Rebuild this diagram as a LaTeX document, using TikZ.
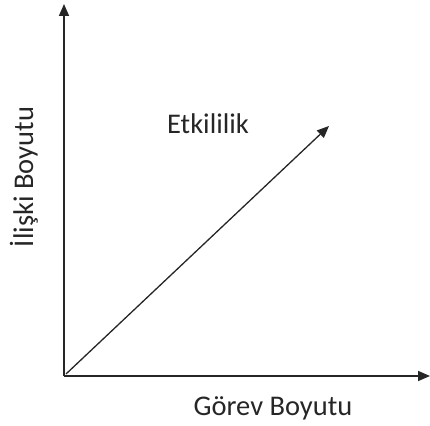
\documentclass[tikz,border=0pt]{standalone}
\usepackage{fontspec}
\usepackage{graphicx}
\setmainfont{Carlito}
\usetikzlibrary{arrows.meta}
\begin{document}
\begin{tikzpicture}[x=1pt,y=1pt,
  axis/.style={line width=1.6pt,draw=black!85,-{Triangle[length=12pt,width=10pt]}},
  lbl/.style={font=\fontsize{28.5}{32}\selectfont,text=black!85,inner sep=0pt}]
\useasboundingbox (0,0) rectangle (430,425);
\coordinate (o) at (64,49);
\coordinate (ytip) at (64,421);
\coordinate (xtip) at (430,49);
\coordinate (o2) at (66,51);
\coordinate (dtip) at (329,299);
\draw[axis] (o) -- (ytip);
\draw[axis] (o) -- (xtip);
\draw[axis,line width=1.3pt] (o2) -- (dtip);
\node[lbl] (et) at (208,301) {Etkililik};
\node[lbl] (gb) at (273,17) {Görev Boyutu};
\node[lbl] (ib) at (24,248) {\rotatebox{90}{İlişki Boyutu}};
\end{tikzpicture}
\end{document}
